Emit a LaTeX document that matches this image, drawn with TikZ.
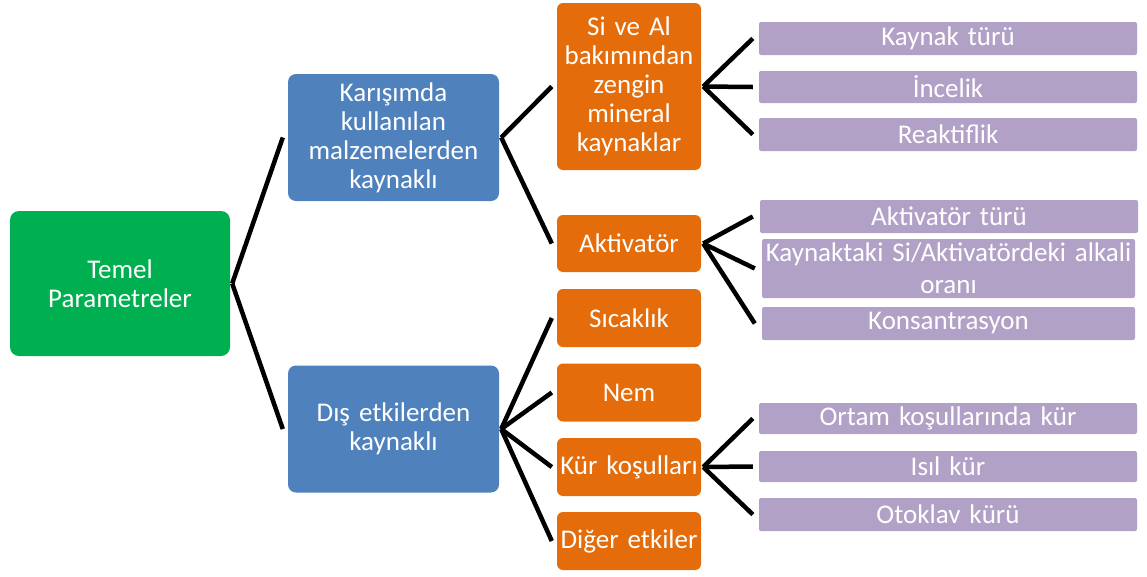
\documentclass[tikz,border=0pt]{standalone}
\usepackage{fontspec}
\setmainfont[WordSpace=0.6]{Carlito}
\usepackage{tikz}
\usepackage{xcolor}
\definecolor{paramgreen}{RGB}{0,176,80}
\definecolor{paramblue}{RGB}{79,129,189}
\definecolor{paramorange}{RGB}{228,108,10}
\definecolor{paramlilac}{RGB}{178,161,199}
\usetikzlibrary{positioning}

\begin{document}
\begin{tikzpicture}[x=1pt,y=-1pt,
	box/.style={
	rectangle,            % shape
	inner sep=0pt,        % padding
	text=white,           % white text
	align=center,
	font=\fontsize{27}{29}\selectfont
	},
	rootbox/.style={box, fill=paramgreen, rounded corners=9pt, minimum width=220pt, minimum height=145pt, text width=200pt},
	groupbox/.style={box, fill=paramblue, rounded corners=8pt, minimum width=211pt, minimum height=127pt, text width=200pt},
	factorbox/.style={box, fill=paramorange, rounded corners=6pt, minimum width=144pt, minimum height=58pt, text width=140pt},
	detailbox/.style={box, fill=paramlilac, rounded corners=2pt, minimum width=378pt, minimum height=33pt, text width=370pt,
	font=\fontsize{27}{32}\selectfont},
	link/.style={draw=black, line width=4.5pt}
	]
	\useasboundingbox (0,0) rectangle (1147,576);

	% root
	\node[rootbox] (root) at (120,283.5) {Temel\\Parametreler};

	% groups
	\node[groupbox] (mix) at (393.5,137.5) {Karışımda\\kullanılan\\malzemelerden\\kaynaklı};
	\node[groupbox] (ext) at (393.5,429) {Dış etkilerden\\kaynaklı};

	% factors
	\node[factorbox, minimum height=167pt] (mineral) at (629,86.5) {Si ve Al\\bakımından\\zengin\\mineral\\kaynaklar};
	\node[factorbox, minimum height=57pt] (activ) at (629,243.5) {Aktivatör};
	\node[factorbox] (temp) at (629,318) {Sıcaklık};
	\node[factorbox] (humid) at (629,392.5) {Nem};
	\node[factorbox] (cure) at (629,467) {Kür koşulları};
	\node[factorbox] (other) at (629,541) {Diğer etkiler};

	% details
	\node[detailbox] (srctype) at (948,38.5) {Kaynak türü};
	\node[detailbox, minimum height=32pt] (fine) at (948,87) {İncelik};
	\node[detailbox] (react) at (948,134.5) {Reaktiflik};
	\node[detailbox] (acttype) at (949,216.5) {Aktivatör türü};
	\node[detailbox, minimum width=373pt, minimum height=59pt, text width=368pt] (ratio) at (948.5,268.5) {Kaynaktaki Si/Aktivatördeki alkali\\oranı};
	\node[detailbox, minimum width=373pt] (conc) at (948.5,323.5) {Konsantrasyon};
	\node[detailbox, minimum height=31pt] (ambient) at (948,418.5) {Ortam koşullarında kür};
	\node[detailbox, minimum height=31pt] (heat) at (948,466.5) {Isıl kür};
	\node[detailbox] (autoclave) at (948,514.5) {Otoklav kürü};

	% connectors
	\foreach \c in {mix,ext}
		\draw[link] ([xshift=2pt]root.east) -- ([xshift=-5pt]\c.west);
	\foreach \c in {mineral,activ}
		\draw[link] ([xshift=2pt]mix.east) -- ([xshift=-5pt]\c.west);
	\foreach \c in {temp,humid,cure,other}
		\draw[link] ([xshift=2pt]ext.east) -- ([xshift=-5pt]\c.west);
	\foreach \c in {srctype,fine,react}
		\draw[link] ([xshift=2pt]mineral.east) -- ([xshift=-6pt]\c.west);
	\foreach \c in {acttype,ratio,conc}
		\draw[link] ([xshift=2pt]activ.east) -- ([xshift=-7pt]\c.west);
	\foreach \c in {ambient,heat,autoclave}
		\draw[link] ([xshift=2pt]cure.east) -- ([xshift=-6pt]\c.west);
\end{tikzpicture}
\end{document}
